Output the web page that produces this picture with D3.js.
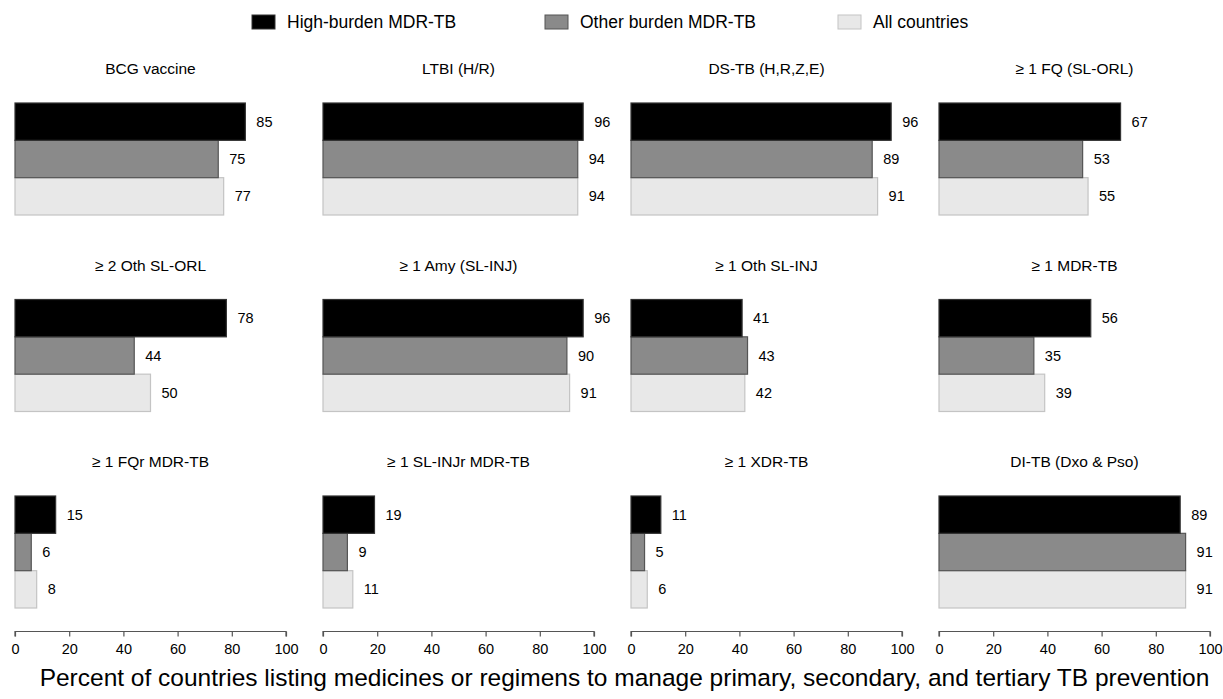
<!DOCTYPE html>
<html><head><meta charset="utf-8">
<script src="https://cdn.jsdelivr.net/npm/d3@7"></script>
<style>body{margin:0;background:#fff}svg{display:block;font-family:"Liberation Sans",Arial,Helvetica,sans-serif}</style>
</head><body><svg id="c" width="1223" height="699"></svg>
<script>
const panelTitles = ["BCG vaccine","LTBI (H/R)","DS-TB (H,R,Z,E)","≥ 1 FQ (SL-ORL)","≥ 2 Oth SL-ORL","≥ 1 Amy (SL-INJ)","≥ 1 Oth SL-INJ","≥ 1 MDR-TB","≥ 1 FQr MDR-TB","≥ 1 SL-INJr MDR-TB","≥ 1 XDR-TB","DI-TB (Dxo & Pso)"];
const seriesNames = ["High-burden MDR-TB","Other burden MDR-TB","All countries"];
const highBurden = [85,96,96,67,78,96,41,56,15,19,11,89];
const otherBurden = [75,94,89,53,44,90,43,35,6,9,5,91];
const allCountries = [77,94,91,55,50,91,42,39,8,11,6,91];
const tickValues = [0,20,40,60,80,100];
const axisTitle = "Percent of countries listing medicines or regimens to manage primary, secondary, and tertiary TB prevention";

const fills = ["#000000","#8a8a8a","#e8e8e8"];
const strokes = ["#333333","#555555","#c4c4c4"];
const series = [highBurden, otherBurden, allCountries];

const svg = d3.select("#c");
const colStep = 308, panelW = 271, left0 = 15;
const rowTop0 = 103, rowStep = 196.5, barsH = 112;

// legend
const legX = [252, 545, 838];
seriesNames.forEach((n,i)=>{
  svg.append("rect").attr("x",legX[i]).attr("y",15).attr("width",23).attr("height",14)
    .attr("fill",fills[i]).attr("stroke",strokes[i]).attr("stroke-width",1);
  svg.append("text").attr("x",legX[i]+35).attr("y",22).attr("dy","0.35em")
    .attr("font-size",17.5).attr("fill","#000").text(n);
});

const x = d3.scaleLinear().domain([0,100]).range([0,panelW]);
const yb = d3.scaleBand().domain([0,1,2]).range([0,barsH]).padding(0);

panelTitles.forEach((t,k)=>{
  const c = k%4, r = Math.floor(k/4);
  const g = svg.append("g").attr("transform",`translate(${left0+c*colStep},${rowTop0+r*rowStep})`);
  g.append("text").attr("x",panelW/2).attr("y",-34).attr("dy","0.35em").attr("text-anchor","middle")
    .attr("font-size",15.5).text(t);
  const vals = series.map(s=>s[k]);
  [2,1,0].forEach(i=>{
    g.append("rect").attr("x",x(0)).attr("y",yb(i)).attr("width",x(vals[i])).attr("height",yb.bandwidth())
      .attr("fill",fills[i]).attr("stroke",strokes[i]).attr("stroke-width",1.2);
    g.append("text").attr("x",x(vals[i])+11).attr("y",yb(i)+yb.bandwidth()/2).attr("dy","0.35em")
      .attr("font-size",14.5).text(vals[i]);
  });
});

for(let c=0;c<4;c++){
  const ax = d3.axisBottom(x).tickValues(tickValues).tickSize(5).tickSizeOuter(5).tickPadding(7);
  const g = svg.append("g").attr("transform",`translate(${left0+c*colStep},631.5)`).call(ax);
  g.select(".domain").attr("stroke","#555").attr("stroke-width",1.2).attr("d",`M0,5V0H${panelW}V5`);
  g.selectAll(".tick line").attr("stroke","#555").attr("stroke-width",1.2);
  g.selectAll(".tick text").attr("font-size",14.5).attr("fill","#000").attr("font-family","Liberation Sans, Arial, sans-serif");
}

svg.append("text").attr("x",624.5).attr("y",677).attr("dy","0.35em").attr("text-anchor","middle")
  .attr("font-size",24.5).text(axisTitle);
</script></body></html>
